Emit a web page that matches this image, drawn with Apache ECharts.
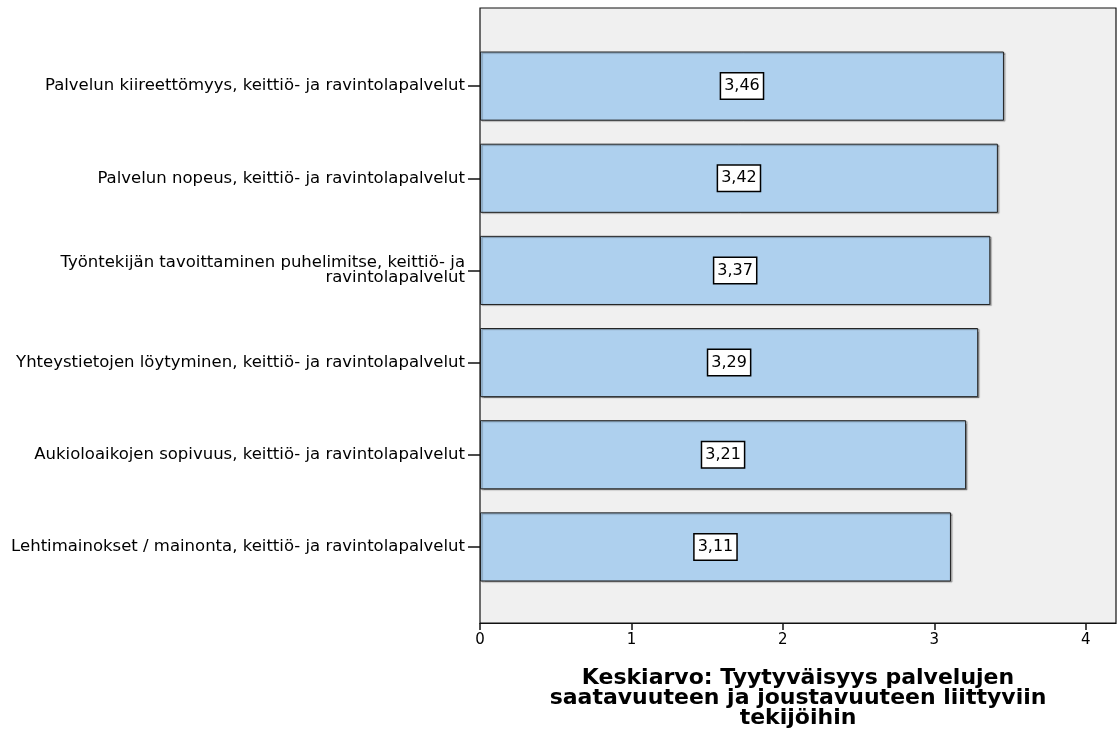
<!DOCTYPE html>
<html>
<head>
<meta charset="utf-8">
<script src="https://cdn.jsdelivr.net/npm/echarts@6/dist/echarts.min.js"></script>
<style>
  html, body { margin: 0; padding: 0; background: #ffffff; }
  #chart { width: 1117px; height: 735px; }
</style>
</head>
<body>
<div id="chart"></div>
<script>
// Category labels (top to bottom)
const categories = [
  'Palvelun kiireettömyys, keittiö- ja ravintolapalvelut',
  'Palvelun nopeus, keittiö- ja ravintolapalvelut',
  'Työntekijän tavoittaminen puhelimitse, keittiö- ja\nravintolapalvelut',
  'Yhteystietojen löytyminen, keittiö- ja ravintolapalvelut',
  'Aukioloaikojen sopivuus, keittiö- ja ravintolapalvelut',
  'Lehtimainokset / mainonta, keittiö- ja ravintolapalvelut'
];
// Mean values
const means = [3.46, 3.42, 3.37, 3.29, 3.21, 3.11];
// Value axis range and title
const axisMin = 0;
const axisMax = 4.2;
const axisStep = 1;
const axisTitle = 'Keskiarvo: Tyytyväisyys palvelujen\nsaatavuuteen ja joustavuuteen liittyviin\ntekijöihin';

const chart = echarts.init(document.getElementById('chart'), null, { renderer: 'canvas' });

const plotLeft = 480, plotWidth = 636;

chart.setOption({
  animation: false,
  backgroundColor: '#ffffff',
  grid: [
    // Framed plot area with the value axis
    { left: plotLeft, width: plotWidth, top: 8, height: 615, show: true,
      backgroundColor: '#f0f0f0', borderColor: '#111', borderWidth: 1.2 },
    // Inner band area holding the bars and category labels
    { left: plotLeft, width: plotWidth, top: 40, height: 553 }
  ],
  xAxis: [
    {
      gridIndex: 0, type: 'value', min: axisMin, max: axisMax, interval: axisStep,
      axisLine: { show: true, lineStyle: { color: '#111', width: 1.2 } },
      axisTick: { show: true, length: 7, lineStyle: { color: '#111', width: 1.5 } },
      axisLabel: { show: true, showMaxLabel: false, color: '#000', fontFamily: 'DejaVu Sans', fontSize: 15, margin: 10 },
      splitLine: { show: false },
      name: axisTitle,
      nameLocation: 'middle',
      nameGap: 45,
      nameTextStyle: { fontFamily: 'DejaVu Sans', fontWeight: 'bold', fontSize: 22, lineHeight: 20, color: '#000', align: 'center' }
    },
    {
      gridIndex: 1, type: 'value', min: axisMin, max: axisMax, interval: axisStep, show: false
    }
  ],
  yAxis: [
    { gridIndex: 0, type: 'value', show: false },
    {
      gridIndex: 1, type: 'category', data: categories, inverse: true,
      axisLine: { show: false },
      axisTick: { show: true, alignWithLabel: true, length: 12, lineStyle: { color: '#111', width: 1.5 } },
      axisLabel: { color: '#000', fontFamily: 'DejaVu Sans', fontSize: 16.5, lineHeight: 15, margin: 15, align: 'right' }
    }
  ],
  series: [
    {
      type: 'bar',
      xAxisIndex: 1, yAxisIndex: 1,
      data: means,
      barCategoryGap: '25%',
      itemStyle: {
        color: '#aed0ee',
        borderColor: '#222',
        borderWidth: 1,
        shadowColor: 'rgba(0,0,0,0.35)',
        shadowOffsetX: 1.5,
        shadowOffsetY: 1,
        shadowBlur: 1
      },
      label: {
        show: true,
        position: 'inside',
        formatter: p => p.value.toFixed(2).replace('.', ','),
        color: '#000',
        fontFamily: 'DejaVu Sans',
        fontSize: 16,
        backgroundColor: '#ffffff',
        borderColor: '#000',
        borderWidth: 1.5,
        padding: [5, 3, 4, 3]
      }
    }
  ]
});
</script>
</body>
</html>
